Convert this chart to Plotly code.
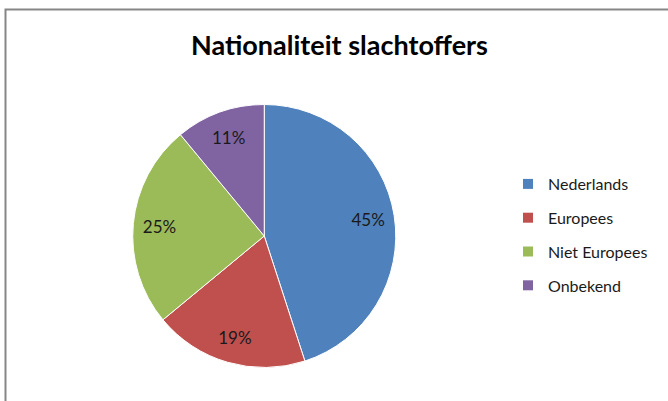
import plotly.graph_objects as go

# Nationaliteit slachtoffers - aandelen in procenten
labels = ['Nederlands', 'Europees', 'Niet Europees', 'Onbekend']
values = [45, 19, 25, 11]
colors = ['#4F81BD', '#C0504D', '#9BBB59', '#8064A2']

W, H = 668, 401
font = 'Lato'
pie_domain = dict(x=[132.5 / W, 396 / W], y=[1 - 367.5 / H, 1 - 104.5 / H])

fig = go.Figure()

fig.add_trace(go.Pie(labels=labels, values=values, sort=False,
                     direction='clockwise', rotation=0,
                     marker=dict(colors=colors, line=dict(color='white', width=1)),
                     textinfo='none', domain=pie_domain,
                     showlegend=False, hoverinfo='label+percent'))

# transparante ring erover, zodat de percentages verder naar buiten staan (zoals Excel)
fig.add_trace(go.Pie(labels=labels, values=values, sort=False, hole=0.6,
                     direction='clockwise', rotation=0,
                     marker=dict(colors=['rgba(0,0,0,0)'] * len(values),
                                 line=dict(width=0)),
                     texttemplate='%{percent:.0%}', textposition='inside',
                     insidetextorientation='horizontal',
                     textfont=dict(family=font, size=17, color='#1a1a1a'),
                     domain=pie_domain, showlegend=False, hoverinfo='skip'))

# legenda via lege traces, zodat de afstand tussen items klopt
for lab, col in zip(labels, colors):
    fig.add_trace(go.Scatter(x=[None], y=[None], mode='markers', name=lab,
                             legendgroup=lab,
                             marker=dict(symbol='square', size=10, color=col)))

fig.update_layout(
    width=W, height=H,
    margin=dict(l=0, r=0, t=0, b=0),
    paper_bgcolor='white', plot_bgcolor='white',
    xaxis=dict(visible=False), yaxis=dict(visible=False),
    legend=dict(x=508 / W, y=1 - 167 / H, xanchor='left', yanchor='top',
                font=dict(family=font, size=16, color='#1a1a1a'),
                tracegroupgap=10, itemclick=False, itemdoubleclick=False),
    annotations=[dict(text='<b>Nationaliteit slachtoffers</b>', x=339 / W, y=1 - 44 / H,
                      xref='paper', yref='paper', xanchor='center', yanchor='middle',
                      showarrow=False, font=dict(family=font, size=27, color='black'))],
    shapes=[dict(type='rect', xref='paper', yref='paper',
                 x0=5.5 / W, x1=1.2, y0=-0.2, y1=1 - 9.5 / H,
                 line=dict(color='#868686', width=2), fillcolor='rgba(0,0,0,0)',
                 layer='below')],
)

fig.write_html("out.html", config={'displayModeBar': False},
               post_script="document.body.style.margin='0';")
